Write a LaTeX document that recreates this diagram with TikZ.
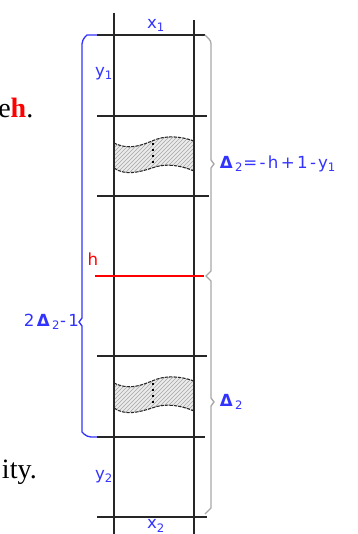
\documentclass[tikz,border=0pt]{standalone}
\usepackage{fontspec}
\setmainfont{Liberation Serif}
\newfontfamily\pixfont[LetterSpace=14]{DejaVu Sans}
\usepackage{tikz}
\usetikzlibrary{positioning,patterns}
\definecolor{lblblue}{HTML}{3333FF}
\definecolor{bracegray}{HTML}{A8A8A8}
\definecolor{hred}{HTML}{FF0000}

\begin{document}
\begin{tikzpicture}[
    x=0.75pt, y=-0.75pt,
    gridline/.style={
        draw=black!85,
        line width=1pt
    },
    wall/.style={
        draw=black!85,
        line width=1.3pt
    },
    wave/.style={
        draw=black!85,
        dashed,
        dash pattern=on 2.5pt off 0.8pt,
        line width=0.8pt
    },
    hatch/.style={
        pattern=north east lines,
        pattern color=black!35
    },
    bluebrace/.style={
        draw=lblblue,
        line width=1pt
    },
    graybrace/.style={
        draw=bracegray,
        line width=1pt
    },
    lbl/.style={
        font=\pixfont\fontsize{12.5}{13}\selectfont,
        text=lblblue,
        inner sep=0.5pt
    },
    prose/.style={
        font=\fontsize{21}{24}\selectfont,
        inner sep=0pt
    }
]
\useasboundingbox (0,0) rectangle (357,534);

% Text cut off on the left
\node[prose, anchor=base west] (texth) at (-2,118)
{e\textcolor{hred}{\textbf{h}}.};
\node[prose, anchor=base east] (textity) at (37,478) {ity.};

% Shaded wavy gaps
\foreach \dy in {0,240} {
  \begin{scope}[yshift=-\dy*0.75pt]
    \fill[white!92!black] (114,143) .. controls (128,150) and (140,146) .. (152,141)
      .. controls (165,135) and (180,136) .. (194,141) -- (194,171)
      .. controls (180,165) and (165,163) .. (152,168)
      .. controls (140,172) and (125,176) .. (114,168) -- cycle;
    \fill[hatch] (114,143) .. controls (128,150) and (140,146) .. (152,141)
      .. controls (165,135) and (180,136) .. (194,141) -- (194,171)
      .. controls (180,165) and (165,163) .. (152,168)
      .. controls (140,172) and (125,176) .. (114,168) -- cycle;
    \draw[wave] (114,143) .. controls (128,150) and (140,146) .. (152,141)
      .. controls (165,135) and (180,136) .. (194,141);
    \draw[wave] (194,171) .. controls (180,165) and (165,163) .. (152,168)
      .. controls (140,172) and (125,176) .. (114,168);
    \draw[line width=1.6pt, dash pattern=on 1.6pt off 2.8pt] (153,143) -- (153,166);
  \end{scope}
}

% Walls and rows
\coordinate (wlt) at (114,13);
\coordinate (wlb) at (114,534);
\coordinate (wrt) at (194,20);
\coordinate (wrb) at (194,534);
\draw[wall] (wlt) -- (wlb);
\draw[wall] (wrt) -- (wrb);

\foreach \yy/\xe in {35/205,116/207,196/209,356/207,437/205,517/207} {
  \draw[gridline] (97,\yy) -- (\xe,\yy);
}
\coordinate (hl) at (95,276);
\coordinate (hr) at (204,276);
\draw[draw=hred, line width=1pt] (hl) -- (hr);

% Blue brace
\draw[bluebrace] (97,35) -- (87,35) [rounded corners=3pt] -- (82,40) [sharp corners]
  -- (82,318) -- (79,322) -- (82,326) -- (82,432) [rounded corners=3pt] -- (87,437)
  [sharp corners] -- (97,437);

% Gray braces
\draw[graybrace] (205,35) [rounded corners=2pt] -- (211,41) [sharp corners]
  -- (211,160) -- (214,164) -- (211,168) -- (211,271) -- (206,276) -- (211,281)
  -- (211,398) -- (214,402) -- (211,406) -- (211,508) [rounded corners=2pt]
  -- (205,514) [sharp corners];

% Labels
\node[lbl] (xone) at (156,25) {x\textsubscript{1}};
\node[lbl] (yone) at (104,74) {y\textsubscript{1}};
\node[lbl, text=hred] (hlab) at (93,259) {h};
\node[lbl, anchor=east] (twodelta) at (80,322) {2\textbf{Δ}\textsubscript{2}-1};
\node[lbl, anchor=west] (deltaeq) at (219,164) {\textbf{Δ}\textsubscript{2}=-h+1-y\textsubscript{1}};
\node[lbl, anchor=west] (delta) at (219,402) {\textbf{Δ}\textsubscript{2}};
\node[lbl] (ytwo) at (104,477) {y\textsubscript{2}};
\node[lbl] (xtwo) at (156,526) {x\textsubscript{2}};

\end{tikzpicture}
\end{document}
